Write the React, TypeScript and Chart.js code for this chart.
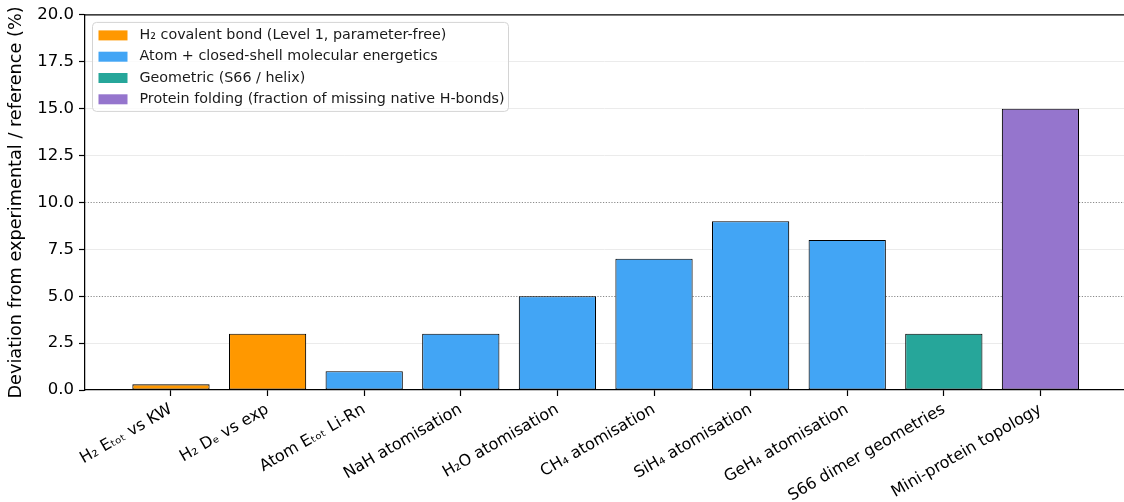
import React, { useEffect, useRef } from 'react';
import { Chart, registerables } from 'chart.js';

Chart.register(...registerables);

const categories: string[] = [
  'H₂ Eₜₒₜ vs KW',
  'H₂ Dₑ vs exp',
  'Atom Eₜₒₜ Li-Rn',
  'NaH atomisation',
  'H₂O atomisation',
  'CH₄ atomisation',
  'SiH₄ atomisation',
  'GeH₄ atomisation',
  'S66 dimer geometries',
  'Mini-protein topology',
];
const deviations: number[] = [0.3, 3, 1, 3, 5, 7, 9, 8, 3, 15];
const groupOfBar: number[] = [0, 0, 1, 1, 1, 1, 1, 1, 2, 3];
const groupLabels: string[] = [
  'H₂ covalent bond (Level 1, parameter-free)',
  'Atom + closed-shell molecular energetics',
  'Geometric (S66 / helix)',
  'Protein folding (fraction of missing native H-bonds)',
];
const groupColors: string[] = ['#FF9800', '#42A5F5', '#26A69A', '#9575CD'];
const yTickValues: number[] = [0, 2.5, 5, 7.5, 10, 12.5, 15, 17.5, 20];
const referenceLines: number[] = [5, 10];
const yTitle = 'Deviation from experimental / reference (%)';

const FONT = '"DejaVu Sans", sans-serif';

const framePlugin = {
  id: 'frameAndRefs',
  beforeDatasetsDraw(chart: any) {
    const { ctx, chartArea, scales } = chart;
    ctx.save();
    ctx.strokeStyle = '#8a8a8a';
    ctx.lineWidth = 1;
    ctx.setLineDash([1.2, 1.6]);
    referenceLines.forEach((v) => {
      const y = Math.round(scales.y.getPixelForValue(v)) + 0.5;
      ctx.beginPath();
      ctx.moveTo(chartArea.left, y);
      ctx.lineTo(chartArea.right, y);
      ctx.stroke();
    });
    ctx.restore();
  },
  afterDraw(chart: any) {
    const { ctx, chartArea } = chart;
    ctx.save();
    // top spine
    ctx.strokeStyle = '#000';
    ctx.lineWidth = 1.25;
    ctx.beginPath();
    ctx.moveTo(chartArea.left, chartArea.top);
    ctx.lineTo(chartArea.right, chartArea.top);
    ctx.stroke();

    // legend
    const bx = chartArea.left + 7.5;
    const by = chartArea.top + 7.5;
    const bw = 416;
    const bh = 89;
    ctx.beginPath();
    if ((ctx as any).roundRect) (ctx as any).roundRect(bx, by, bw, bh, 4);
    else ctx.rect(bx, by, bw, bh);
    ctx.fillStyle = 'rgba(255,255,255,0.8)';
    ctx.fill();
    ctx.strokeStyle = '#d4d4d4';
    ctx.lineWidth = 1;
    ctx.stroke();
    ctx.font = `14.3px ${FONT}`;
    ctx.textBaseline = 'middle';
    ctx.textAlign = 'left';
    groupLabels.forEach((label, i) => {
      const cy = by + 13 + i * 21.3;
      ctx.fillStyle = groupColors[i];
      ctx.fillRect(bx + 6, cy - 5, 29, 10);
      ctx.fillStyle = '#1a1a1a';
      ctx.fillText(label, bx + 47, cy);
    });
    ctx.restore();
  },
};

export default function App() {
  const canvasRef = useRef<HTMLCanvasElement | null>(null);

  useEffect(() => {
    const canvas = canvasRef.current;
    if (!canvas) return;
    const chart = new Chart(canvas, {
      type: 'bar',
      data: {
        datasets: [
          {
            data: deviations.map((v, i) => ({ x: i, y: v })),
            backgroundColor: groupOfBar.map((g) => groupColors[g]),
            borderColor: '#000',
            borderWidth: 1.1,
            borderSkipped: false,
            barPercentage: 0.8,
            categoryPercentage: 1,
          } as any,
        ],
      },
      options: {
        animation: false,
        responsive: false,
        layout: { padding: { top: 12, left: 0, right: 0, bottom: 0 } },
        plugins: {
          legend: { display: false },
          tooltip: { enabled: false },
        },
        scales: {
          x: {
            type: 'linear',
            offset: false,
            min: -0.89,
            max: 9.865,
            afterBuildTicks: (scale: any) => {
              scale.ticks = categories.map((_, i) => ({ value: i }));
            },
            afterFit: (scale: any) => {
              scale.height = 112;
            },
            ticks: {
              autoSkip: false,
              minRotation: 30,
              maxRotation: 30,
              padding: 4,
              color: '#000',
              font: { family: FONT, size: 16 },
              callback: (v: any) => categories[Math.round(Number(v))] ?? '',
            },
            grid: {
              offset: false,
              drawOnChartArea: false,
              drawTicks: true,
              tickLength: 6,
              tickColor: '#000',
              tickWidth: 1.2,
            },
            border: { color: '#000', width: 1.25 },
          },
          y: {
            type: 'linear',
            min: 0,
            max: 20,
            afterBuildTicks: (scale: any) => {
              scale.ticks = yTickValues.map((v) => ({ value: v }));
            },
            afterFit: (scale: any) => {
              scale.width = 85;
            },
            ticks: {
              padding: 5,
              color: '#000',
              font: { family: FONT, size: 16.5 },
              callback: (v: any) => Number(v).toFixed(1),
            },
            grid: {
              color: (ctx: any) => {
                const v = ctx.tick ? ctx.tick.value : null;
                if (v === 0 || v === 20 || referenceLines.includes(v)) return 'rgba(0,0,0,0)';
                return '#ebebeb';
              },
              lineWidth: 1,
              tickLength: 6,
              tickColor: '#000',
              tickWidth: 1.2,
            },
            border: { color: '#000', width: 1.25 },
            title: {
              display: true,
              text: yTitle,
              color: '#000',
              font: { family: FONT, size: 17.7 },
              padding: { top: 6, bottom: 0 },
            },
          },
        },
      } as any,
      plugins: [framePlugin],
    });
    return () => chart.destroy();
  }, []);

  return (
    <div style={{ position: 'absolute', left: 0, top: 0, width: 1124, height: 502, background: '#fff' }}>
      <canvas ref={canvasRef} width={1124} height={502} style={{ display: 'block' }} />
    </div>
  );
}
